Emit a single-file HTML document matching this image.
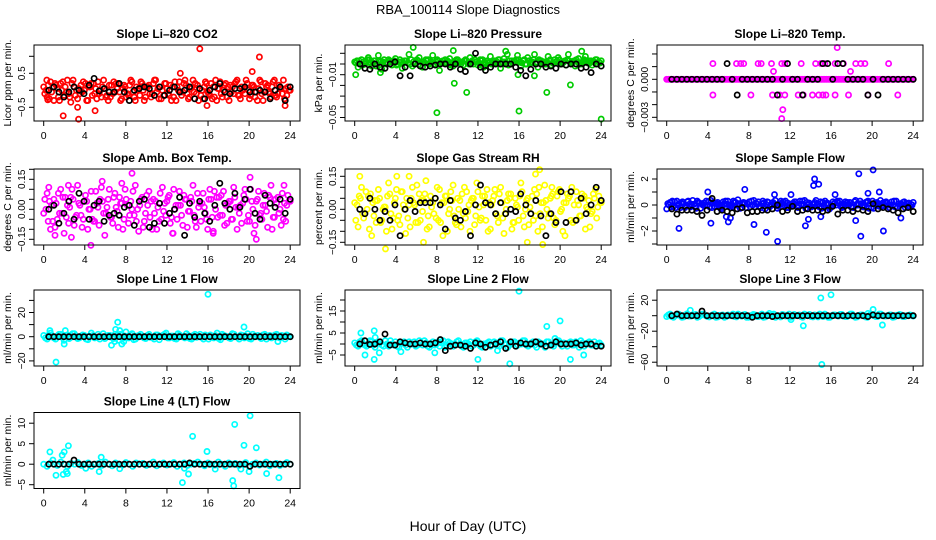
<!DOCTYPE html>
<html><head><meta charset="utf-8"><title>RBA_100114 Slope Diagnostics</title>
<style>
html,body{margin:0;padding:0;background:#fff;}
svg{display:block;font-family:"Liberation Sans",Arial,sans-serif;}
</style></head>
<body>
<svg id="chart" width="936" height="540" viewBox="0 0 936 540" xmlns="http://www.w3.org/2000/svg">
<rect width="936" height="540" fill="#fff"/>
<text x="468" y="14" text-anchor="middle" font-size="13">RBA_100114  Slope Diagnostics</text>
<text x="468" y="531" text-anchor="middle" font-size="14">Hour of Day (UTC)</text>
</svg>
<script>
// ---- data ----
const xTicks = [0,4,8,12,16,20,24];

const co2Color = [0.1,-0.2,0.25,-0.3,0.05,0.2,-0.15,0.3,-0.35,0.1,-0.25,0.15,0.0,-0.3,0.2,-0.1,0.25,-0.2,0.05,-0.3,0.15,-0.05,0.2,-0.25,0.1,-0.15,0.25,-0.3,0.05,0.2,-0.2,0.15,-0.1,0.3,-0.25,0.0,0.2,-0.15,0.1,-0.3,0.25,-0.05,0.15,-0.2,0.3,-0.1,0.05,-0.25,0.2,-0.15,0.1,-0.3,0.25,0.0,-0.2,0.15,-0.1,0.3,-0.25,0.05,0.2,-0.15,0.1,-0.3,0.25,-0.05,0.15,-0.2,0.3,-0.1,0.05,-0.25,0.1];
const co2Color2 = [-0.1,0.15,-0.05,0.2,-0.2,0.0,0.1,-0.1,0.2,-0.15,0.05,-0.05,0.2,0.1,-0.15,0.05,-0.1,0.1,-0.2,0.15,-0.1,0.2,-0.05,0.05,-0.2,0.15,-0.05,0.1,-0.15,0.0,0.1,-0.1,0.2,-0.05,0.1,-0.15,0.05,0.15,-0.2,0.1,-0.05,0.2,-0.1,0.05,-0.05,0.15,-0.15,0.1,-0.05,0.2,-0.2,0.05,-0.1,0.15,0.1,-0.05,0.2,-0.15,0.1,-0.1,0.0,0.15,-0.2,0.05,-0.1,0.2,-0.05,0.1,-0.15,0.15,-0.1,0.05,0.0];
const co2Color3 = [0.0,-0.25,0.1,0.15,-0.3,0.25,-0.05,-0.2,0.3,0.0,-0.1,0.25,-0.3,0.1,0.2,-0.25,0.0,0.3,-0.15,-0.2,0.25,0.05,-0.3,0.15,-0.1,0.3,-0.2,0.0,0.25,-0.3,0.1,-0.2,0.3,0.05,-0.25,0.2,-0.1,-0.3,0.25,0.0,-0.15,0.3,-0.25,0.1,0.2,-0.3,0.0,0.25,-0.1,-0.25,0.3,0.05,-0.2,0.2,-0.3,0.1,0.25,-0.15,0.0,0.3,-0.25,0.15,-0.05,0.3,-0.3,0.1,-0.1,0.25,-0.2,0.05,0.3,-0.15,0.0];
const co2Out = [[1.9,-0.75],[3.4,-0.85],[5,-0.6],[15.2,1.22],[21,0.98],[20.3,0.55],[13.3,0.5],[3.3,-0.5],[23.5,-0.45],[0.3,0.3],[0.4,-0.28],[15.9,-0.45]];
const co2Black = [0.0,0.1,-0.05,-0.2,-0.05,0.1,0.0,-0.1,0.15,0.35,-0.02,0.05,-0.05,-0.05,0.2,-0.05,-0.3,0.0,0.05,0.1,0.05,-0.15,0.1,-0.15,0.0,0.1,-0.05,0.0,0.1,-0.25,0.05,-0.25,0.0,0.1,0.2,-0.05,-0.1,0.05,0.05,0.1,-0.05,-0.05,0.0,-0.05,-0.25,0.0,0.1,-0.3,0.1];

const presColor = [0.002,-0.003,0.004,0.0,0.006,-0.002,0.003,0.008,-0.005,0.001,0.004,-0.001,0.005,0.002,-0.004,0.003,0.009,-0.002,0.001,0.006,-0.003,0.004,0.0,0.008,0.002,-0.006,0.003,0.001,0.005,-0.002,0.004,0.002,-0.001,0.003,0.006,0.0,0.002,0.004,-0.003,0.003,0.007,0.001,0.002,-0.004,0.005,0.009,0.0,0.003,0.008,-0.002,0.004,0.006,0.001,0.009,-0.003,0.003,0.002,0.007,-0.001,0.004,0.006,0.0,0.003,0.009,0.002,-0.002,0.005,0.001,0.007,0.003,-0.001,0.004,0.002];
const presColor2 = [0.001,0.003,-0.001,0.002,0.004,0.001,-0.002,0.003,0.002,0.0,0.003,0.002,-0.001,0.004,0.001,0.003,0.0,0.002,0.004,-0.001,0.002,0.003,0.001,0.0,0.004,0.002,0.001,0.003,-0.001,0.002,0.004,0.0,0.003,0.001,0.002,0.004,-0.001,0.003,0.002,0.001,0.0,0.003,0.004,0.001,0.002,-0.001,0.003,0.002,0.004,0.001,0.0,0.003,0.002,0.001,0.004,0.002,0.0,0.003,0.001,0.002,0.004,0.001,-0.001,0.003,0.002,0.004,0.0,0.002,0.003,0.001,0.002,0.004,0.001];
const presColor3 = [0.003,0.0,0.002,0.004,0.001,0.003,0.0,0.002,0.004,0.001,0.002,0.003,0.0,0.002,0.003,0.001,0.004,0.0,0.003,0.002,0.001,0.004,0.002,0.0,0.003,0.001,0.004,0.002,0.0,0.003,0.001,0.002,0.004,0.0,0.003,0.002,0.001,0.004,0.0,0.002,0.003,0.001,0.004,0.002,0.0,0.003,0.001,0.004,0.002,0.003,0.0,0.001,0.004,0.002,0.003,0.0,0.002,0.004,0.001,0.003,0.0,0.002,0.004,0.001,0.003,0.002,0.0,0.004,0.001,0.003,0.002,0.0,0.003];
const presOut = [[5.7,0.0155],[8,-0.0455],[16,-0.044],[24,-0.0515],[10.9,-0.0265],[9.7,-0.018],[18.7,-0.0265],[21,-0.0195],[9.6,0.0125],[0.1,-0.01],[2.5,-0.008],[15.9,-0.01],[17.5,-0.011],[22.1,0.012],[14.7,0.012]];
const presBlack = [0.0,-0.004,-0.005,0.0,-0.003,-0.004,0.0,0.002,-0.011,-0.003,-0.011,0.0,-0.002,-0.003,-0.002,-0.001,0.0,0.0,-0.003,0.0,-0.005,-0.007,0.0,0.01,-0.003,-0.006,-0.003,0.0,0.0,0.0,0.0,-0.003,-0.006,-0.011,-0.005,0.0,0.0,-0.003,-0.002,-0.004,0.0,-0.001,0.0,0.0,-0.004,-0.003,-0.008,0.0,-0.002];

const tempColor = [0,0,0,0,0,0,0,0,0,0,0,0,0,0,0,0,0,0,0,0,0,0,0,0,0,0,0,0,0,0,0,0,0,0,0,0,0,0,0,0,0,0,0,0,0,0,0,0,0,0,0,0,0,0,0,0,0,0,0,0,0,0,0,0,0,0,0,0,0,0,0,0,0];
const tempColor2 = [0,0,0,0,0,0,0,0,0,0,0,0,0,0,0,0,0,0,0,0,0,0,0,0,0,0,0,0,0,0,0,0,0,0,0,0,0,0,0,0,0,0,0,0,0,0,0,0,0,0,0,0,0,0,0,0,0,0,0,0,0,0,0,0,0,0,0,0,0,0,0,0,0];
const tempOut = [[4.5,0.00124],[6.8,0.00124],[7.2,0.00124],[7.5,0.00124],[8.9,0.00124],[9.2,0.00124],[10.2,0.00124],[11.2,0.00124],[11.5,0.00124],[13.1,0.00124],[14.5,0.00124],[15,0.00124],[15.4,0.00124],[16.4,0.00124],[17.2,0.00124],[18.4,0.00124],[18.9,0.00124],[19.3,0.00124],[21.6,0.00124],[4.5,-0.00124],[8.2,-0.00124],[10.3,-0.00124],[11,-0.00124],[11.5,-0.00124],[12.8,-0.00124],[13.3,-0.00124],[14.2,-0.00124],[14.8,-0.00124],[15.2,-0.00124],[15.5,-0.00124],[16.4,-0.00124],[17.7,-0.00124],[19.6,-0.00124],[22.5,-0.00124],[10.4,0.00062],[17.9,0.00062],[16.6,0.0025],[11.3,-0.0024],[11.2,-0.0031]];
const tempBlack = [0,0,0,0,0,0,0,0,0,0,0,0.00124,0,-0.00124,0,0,0,0,0,0,0,-0.00124,0,0.00124,0,0,-0.00124,0,0,0,0.00124,0.00124,0,0.00124,0.00124,0,0,0,0,-0.00124,0,-0.00124,0,0,0,0,0,0,0];

const ambColor = [-0.02,0.08,-0.1,0.05,-0.05,0.1,-0.12,0.02,0.06,-0.08,0.12,-0.03,0.04,-0.1,0.09,-0.06,0.01,0.11,-0.13,0.05,-0.04,0.08,-0.09,0.03,0.1,-0.07,0.0,0.12,-0.11,0.06,-0.02,0.09,-0.1,0.04,-0.06,0.11,-0.03,0.07,-0.12,0.02,0.09,-0.08,0.05,-0.01,0.12,-0.09,0.03,0.08,-0.05,0.1,-0.11,0.06,-0.03,0.09,-0.07,0.04,0.11,-0.1,0.02,0.07,-0.06,0.1,-0.12,0.05,-0.02,0.08,-0.09,0.12,-0.04,0.06,-0.08,0.03,0.07];
const ambColor2 = [0.05,-0.06,0.02,-0.09,0.08,-0.02,0.06,-0.07,0.1,-0.04,0.03,-0.09,0.07,0.0,-0.05,0.09,-0.08,0.04,-0.02,0.1,-0.07,0.01,0.06,-0.1,0.05,-0.03,0.09,-0.06,0.02,-0.09,0.07,-0.04,0.05,-0.1,0.08,-0.01,0.04,-0.07,0.1,-0.05,0.02,0.07,-0.09,0.06,-0.03,0.08,-0.06,0.01,-0.1,0.05,0.09,-0.04,0.07,-0.08,0.03,-0.05,0.06,0.01,-0.07,0.1,-0.03,0.04,-0.08,0.09,-0.05,0.02,0.07,-0.1,0.05,-0.02,0.08,-0.06,0.04];
const ambColor3 = [0.0,0.04,-0.06,0.03,-0.02,0.06,-0.04,0.01,0.05,-0.03,0.02,-0.05,0.04,0.0,-0.06,0.03,0.05,-0.02,0.01,-0.04,0.06,-0.01,0.03,-0.05,0.02,0.04,-0.03,0.0,0.05,-0.06,0.02,0.04,-0.02,0.01,-0.05,0.03,0.06,-0.04,0.0,0.02,-0.03,0.05,-0.01,0.04,-0.06,0.01,0.03,-0.02,0.05,-0.04,0.0,0.06,-0.03,0.02,0.04,-0.05,0.01,-0.02,0.03,0.05,-0.06,0.0,0.04,-0.03,0.02,-0.01,0.06,-0.04,0.03,0.0,-0.05,0.02,0.04];
const ambOut = [[0.5,0.11],[2.4,0.12],[7.6,0.13],[8.6,0.18],[5.7,0.14],[4.6,-0.18],[2.7,-0.14],[20.7,-0.15],[20.1,0.16],[16.5,-0.12],[23.4,0.12],[1.1,-0.13],[12.6,-0.12]];
const ambBlack = [0.0,0.02,-0.07,-0.02,0.04,-0.05,0.08,0.04,-0.05,0.02,0.04,-0.06,-0.03,-0.02,-0.03,0.01,0.02,-0.08,0.04,0.05,-0.09,-0.07,0.03,-0.07,-0.02,0.0,0.06,-0.13,0.03,-0.04,0.04,-0.02,-0.06,0.02,0.13,0.03,0.0,0.08,0.01,0.05,0.1,-0.02,-0.05,0.07,0.03,0.01,0.05,-0.02,0.05];

const rhColor = [0.03,-0.08,0.1,-0.02,0.06,-0.12,0.04,0.09,-0.05,0.01,0.12,-0.09,0.05,-0.03,0.08,-0.11,0.02,0.1,-0.06,0.07,-0.01,0.13,-0.08,0.03,-0.04,0.09,-0.12,0.06,0.0,0.11,-0.07,0.04,-0.02,0.08,-0.1,0.05,0.12,-0.05,0.02,0.09,-0.09,0.06,-0.03,0.1,-0.11,0.04,0.07,-0.06,0.01,0.12,-0.08,0.05,-0.02,0.09,-0.1,0.03,0.11,-0.04,0.06,-0.07,0.08,0.0,-0.12,0.05,0.1,-0.05,0.02,0.07,-0.09,0.04,-0.01,0.09,0.06];
const rhColor2 = [-0.05,0.06,-0.02,0.08,-0.09,0.03,-0.06,0.05,0.0,-0.1,0.07,-0.04,0.09,-0.07,0.02,0.05,-0.08,0.03,0.11,-0.05,0.04,-0.09,0.06,-0.02,0.1,-0.06,0.03,-0.1,0.08,-0.03,0.05,-0.08,0.1,-0.01,0.04,-0.07,0.08,-0.04,0.06,-0.1,0.02,0.09,-0.06,0.03,-0.02,0.07,-0.09,0.05,-0.05,0.08,0.0,-0.07,0.06,-0.03,0.1,-0.08,0.04,-0.02,0.07,-0.05,0.09,-0.1,0.03,0.06,-0.06,0.08,-0.03,0.05,0.01,-0.08,0.07,-0.04,0.03];
const rhColor3 = [0.02,0.05,-0.04,0.0,0.07,-0.03,0.04,-0.06,0.01,0.06,-0.02,0.03,-0.05,0.08,0.0,-0.04,0.05,0.02,-0.06,0.04,0.07,-0.03,0.01,0.05,-0.05,0.03,0.06,-0.02,0.04,-0.06,0.0,0.07,-0.04,0.02,0.05,-0.03,0.01,0.06,-0.05,0.03,0.04,-0.02,0.07,-0.04,0.0,0.05,-0.06,0.02,0.06,-0.03,0.04,0.01,-0.05,0.07,-0.02,0.03,0.0,0.05,-0.04,0.06,-0.01,0.03,0.07,-0.05,0.02,0.04,-0.03,0.06,0.0,-0.02,0.05,0.01,0.03];
const rhOut = [[0.5,0.15],[3,-0.18],[18,0.18],[17.6,0.16],[5.3,0.15],[4.1,0.15],[18.3,-0.16],[16.8,-0.15],[19.2,0.1],[6.7,-0.15]];
const rhBlack = [0.0,-0.02,0.05,0.0,-0.05,-0.01,-0.05,0.02,-0.12,0.0,0.04,-0.01,0.03,0.03,0.03,0.05,0.02,-0.09,0.04,-0.04,-0.05,-0.01,-0.12,0.02,0.11,0.03,0.02,-0.02,0.03,-0.02,0.0,-0.01,0.07,0.02,-0.02,0.04,-0.03,-0.12,-0.02,-0.06,0.08,-0.06,0.08,-0.05,0.05,-0.02,0.02,0.1,0.04];

const flowColor = [-0.3,0.2,-0.1,0.3,-0.2,0.1,0.25,-0.15,0.05,0.3,-0.25,0.15,0.0,0.35,-0.1,0.2,-0.3,0.1,0.3,-0.05,0.2,0.4,-0.2,0.15,0.05,0.3,-0.15,0.25,0.1,-0.3,0.2,0.0,0.35,-0.1,0.15,0.3,-0.2,0.1,0.25,-0.05,0.3,-0.25,0.15,0.05,0.35,-0.15,0.2,0.1,-0.3,0.25,0.0,0.3,-0.1,0.15,0.2,-0.2,0.05,0.3,-0.15,0.25,0.1,-0.25,0.2,0.35,-0.05,0.15,0.0,0.3,-0.2,0.1,0.25,-0.1,0.05];
const flowColor2 = [0.1,-0.15,0.25,0.0,0.15,-0.2,0.3,0.05,-0.1,0.2,0.1,-0.05,0.25,-0.2,0.15,0.05,-0.1,0.3,0.0,-0.15,0.2,0.1,0.05,-0.2,0.25,0.0,0.15,-0.1,0.3,0.05,-0.15,0.2,-0.05,0.1,0.25,-0.2,0.0,0.15,-0.1,0.3,0.05,0.2,-0.15,0.1,0.0,0.25,-0.05,0.15,-0.2,0.1,0.3,-0.1,0.05,0.2,-0.15,0.25,0.0,0.1,-0.05,0.3,-0.2,0.15,0.05,-0.1,0.2,0.0,0.25,-0.15,0.1,0.05,-0.2,0.15,0.0];
const flowColor3 = [0.0,0.3,-0.2,0.1,0.25,-0.1,0.05,0.35,-0.25,0.15,0.0,0.3,-0.15,0.2,0.1,-0.2,0.25,0.05,-0.1,0.3,0.0,-0.25,0.2,0.1,-0.15,0.35,0.05,-0.2,0.15,0.25,-0.05,0.1,-0.25,0.3,0.0,0.15,-0.1,0.25,-0.2,0.05,0.35,0.0,-0.15,0.2,0.1,-0.25,0.3,0.05,-0.1,0.2,0.15,-0.2,0.25,0.0,-0.15,0.35,0.1,-0.05,0.2,-0.25,0.3,0.05,-0.1,0.15,0.25,-0.2,0.0,0.3,-0.05,0.2,0.1,-0.15,0.2];
const flowOut = [[1.2,-1.8],[4,1.0],[4.3,-1.4],[6,-1.3],[6.2,-1.0],[7.6,1.2],[8.5,-1.5],[9.7,-2.1],[10.8,-2.8],[10.5,0.8],[12.1,0.8],[13.5,-1.6],[13.8,-1.1],[14.4,2.0],[14.8,1.6],[14.3,1.5],[15,-0.9],[16.4,0.8],[18.4,-1.2],[18.7,2.4],[18.9,-2.4],[19.6,0.9],[20.1,2.7],[20.7,1.0],[21.1,-2.0],[22.8,-1.0],[5.8,-0.9]];
const flowBlack = [-0.3,-0.7,-0.4,-0.4,-0.4,-0.5,-0.8,-0.4,0.5,-0.5,-0.4,-0.5,-0.6,-0.3,-0.2,-0.6,-0.5,-0.5,-0.4,-0.4,-0.3,0.0,-0.5,-0.4,-0.1,-0.5,-0.4,-0.3,-0.4,-0.4,-0.5,-0.4,-0.1,-0.7,-0.4,-0.4,-0.5,-0.3,-0.4,-0.5,0.1,-0.3,-0.2,-0.3,-0.4,-0.6,-0.3,-0.2,-0.5];

const l1Color = [1,-2,3,-1,0.5,2,-3,1.5,-0.5,2.5,-1.5,0.5,1,-2.5,3,-1,2,0,-1.5,1,-0.5,2,-3,1.5,0.5,-1,2.5,-2,1,0,-1.5,2,-0.5,1.5,-2.5,1,3,-1,0.5,-2,1.5,0,2.5,-1.5,1,-0.5,2,-2,0.5,1.5,-1,3,-2.5,1,0,-1.5,2,-0.5,1.5,-1,2.5,-2,0.5,1,-1.5,2,0,-1,1.5,-0.5,1,-2,0.5];
const l1Color2 = [-1,1.5,0,-2,2,-0.5,1,-1.5,2.5,0,-1,1.5,-2,0.5,1,-0.5,-2,2.5,0,1,-1.5,0.5,2,-1,0,1.5,-2.5,0.5,2,-1,1,-0.5,-2,1.5,0,2,-1,0.5,-1.5,2.5,0,-1,1,-2,2,0.5,-0.5,1.5,-2,0,1,-1.5,2,0.5,-1,2.5,0,-2,1,0.5,-1.5,2,0,-0.5,1.5,-2,1,0,2,-1,0.5,1.5,0];
const l1Out = [[1.2,-21],[16,35],[7.2,12],[19.5,8],[6.6,-7],[7.6,-6],[7,6],[7.4,5],[2,-6],[0.6,5],[2.1,5],[8,4],[22.8,-4],[6.9,-4],[7.8,-4]];
const l1Black = [0,0,0,0,0,0,0,0,0,0,0,0,0,0,0,0,0,0,0,0,0,0,0,0,0,0,0,0,0,0,0,0,0,0,0,0,0,0,0,0,0,0,0,0,0,0,0,0,0];

const l2Color = [0.5,-1,1.5,-0.5,0,1,-1.5,0.5,-0.5,1.5,-1,0,1,-1.5,0.5,-0.5,1,0,-1,1.5,-0.5,0.5,-1.5,1,0,-1,1.5,-0.5,0.5,-1,1,0,-1.5,0.5,1,-0.5,1.5,-1,0,0.5,-1,1,-0.5,1.5,0,-1.5,0.5,1,-0.5,0,1.5,-1,0.5,-0.5,1,0,-1.5,1,-0.5,0.5,1.5,-1,0,0.5,-0.5,1,-1.5,0.5,0,1,-0.5,-1,0.5];
const l2Color2 = [-0.5,1,0,-1,1.5,-0.5,0.5,1,-1,0,1.5,-0.5,-1,0.5,1,-1.5,0,1,-0.5,0.5,1.5,-1,0,-0.5,1,0.5,-1.5,1,0,-0.5,1.5,-1,0.5,0,-1,1,0.5,-1.5,0,1,-0.5,0.5,-1,1.5,0,-0.5,1,-1,0.5,1.5,-0.5,0,1,-1.5,0.5,0,1,-0.5,-1,1.5,0,0.5,-1,1,-0.5,0,1.5,-1,0.5,-0.5,1,0,-0.5];
const l2Out = [[16,24],[20,10.5],[18.7,8],[0.6,5],[1.9,6],[1.9,-7],[15.1,-9],[12,-7],[21,-7],[1,-5],[22.3,-5],[2,3],[2.4,-4],[7.8,-4],[4.5,-3.5],[19.5,2.5],[13.9,-3]];
const l2Black = [0,1.5,-0.2,0,1,4.5,-0.5,-0.5,1,0.5,0,0,0.5,0,0,0.5,2,-3,-1,-0.5,-0.5,-1,-2,0.5,0,-1.5,-0.5,0,1,-2,1,-1,0.5,0,0,1,0,-1,-0.5,1,0,0,0,0.5,-0.5,0,0,-1,-1];

const l3Color = [-1,2,-2,1,0,-1.5,2.5,-0.5,1,-2,0.5,1.5,-1,0,2,-1.5,0.5,-2,1,0,-1,2,-0.5,1.5,-2,0,1,-1,2,-1.5,0.5,1,-2,0,1.5,-0.5,2,-1,0,1,-2,0.5,1.5,-1.5,0,2,-1,0.5,-2,1,0,1.5,-0.5,-1,2,0,-1.5,1,0.5,-2,1.5,0,-1,2,-0.5,0,1,-1.5,0.5,1,-1,0,0.5];
const l3Color2 = [1,-1,0,2,-2,1,-0.5,0,1.5,-1,2,0,-1.5,1,-2,0.5,1,-1,0,2,-1.5,0.5,1,-2,0,1.5,-1,0.5,-2,1,0,2,-0.5,-1.5,1,0,-2,1.5,0.5,-1,2,0,-1,1,-1.5,0.5,2,-2,0,1,-0.5,1.5,-1,0,2,-2,0.5,1,-1.5,0,1.5,-1,2,0,-0.5,1,-2,0.5,1.5,-1,0,1,-0.5];
const l3Out = [[15,23],[16,27],[15.1,-63],[13.3,-13],[21,-12],[20.1,8],[2.3,7],[12.1,-5],[10,3],[19.6,3]];
const l3Black = [0,2,0,0,0,0,6,0,0,0,0,0,0,0,0,0,-2,0,0,0,-1,0,0,0,0,0,0,0,0,0,0,0,0,0,0,0,0,0,0,-1,1,0,0,0,0,0,0,0,0];

const l4Color = [0,-0.5,0.3,0,-0.3,0.5,0,-0.5,0.2,0,0.4,-0.3,0,0.3,-0.5,0,0.2,-0.3,0.5,0,-0.4,0.3,0,-0.2,0.4,0,-0.5,0.3,0,0.2,-0.3,0,0.5,-0.4,0,0.3,-0.2,0,0.4,-0.5,0,0.3,-0.3,0,0.2,0.5,0,-0.4,0.3,0,-0.2,0.5,0,-0.5,0.3,0,0.2,-0.3,0,0.4,-0.5,0,0.3,-0.2,0,0.5,-0.4,0,0.2,-0.3,0,0.4,0];
const l4Out = [[0.6,3],[0.9,1],[1.2,-2.7],[1.8,2.2],[2,3],[1.9,-2.5],[2.2,-1.8],[2.4,4.5],[2.3,-2.3],[5.6,1.7],[5.4,-1.8],[7.4,-1.1],[13.5,-4.5],[13.7,-1],[14.1,-2.4],[14.5,6.8],[15.9,3.1],[16.7,-1.2],[18.4,-4],[18.5,-5.3],[18.6,9.7],[19.5,4.6],[20,-1.8],[20.1,11.8],[20.7,4],[21.7,-2.3],[22.9,-3.3],[4.1,-1],[19.2,-1.2]];
const l4Black = [0,0,0,0,0,1,0,0,0,0,0,0,0,0,0,0,0,0,0,0,0,0,0,0,0,0,0,0,0.3,0,0,0,0,0,0,0,0,0,0,0,-0.5,0,0,0,0,0,0,0,0];

const yTicks = [
  [1.0,0.5,0,-0.5],
  [0.01,0,-0.01,-0.02,-0.03,-0.04,-0.05],
  [0.002,0.001,0,-0.001,-0.002,-0.003],
  [0.2,0.15,0.1,0.05,0,-0.05,-0.1,-0.15],
  [0.15,0.1,0.05,0,-0.05,-0.1,-0.15],
  [3,2,1,0,-1,-2,-3],
  [30,20,10,0,-10,-20],
  [20,15,10,5,0,-5],
  [20,0,-20,-40,-60],
  [10,5,0,-5]
];
const yTickLabels = [
  {"0.5":"0.5","-0.5":"\u22120.5"},
  {"-0.01":"\u22120.01","-0.05":"\u22120.05"},
  {"0":"0.000","-0.003":"\u22120.003"},
  {"0.15":"0.15","0":"0.00","-0.15":"\u22120.15"},
  {"0.15":"0.15","0":"0.00","-0.15":"\u22120.15"},
  {"2":"2","0":"0","-2":"\u22122"},
  {"20":"20","0":"0","-20":"\u221220"},
  {"15":"15","5":"5","-5":"\u22125"},
  {"20":"20","-20":"\u221220","-60":"\u221260"},
  {"10":"10","5":"5","0":"0","-5":"\u22125"}
];

// ---- layout (not data) ----
const colsL = [34, 345, 657];
const rowsT = [45, 169, 290, 412.5];
const BW = 266, BH = 76;
const panels = [
  {name:"co2", title:"Slope Li\u2013820 CO2", ylab:"Licor ppm per min.", col:0,row:0, zero:45.3, scale:34, color:"#ff0000", series:[co2Color,co2Color2,co2Color3], out:co2Out, black:co2Black},
  {name:"pressure", title:"Slope Li\u2013820 Pressure", ylab:"kPa per min.", col:1,row:0, zero:19, scale:1070, color:"#00cc00", series:[presColor,presColor2,presColor3], out:presOut, black:presBlack},
  {name:"li820-temp", title:"Slope Li\u2013820 Temp.", ylab:"degrees C per min.", col:2,row:0, zero:34.3, scale:12670, color:"#ff00ff", series:[tempColor,tempColor2], out:tempOut, black:tempBlack},
  {name:"amb-box-temp", title:"Slope Amb. Box Temp.", ylab:"degrees C per min.", col:0,row:1, zero:40.3, scale:200, color:"#ff00ff", series:[ambColor,ambColor2,ambColor3], out:ambOut, black:ambBlack},
  {name:"gas-stream-rh", title:"Slope Gas Stream RH", ylab:"percent per min.", col:1,row:1, zero:40.3, scale:220, color:"#ffff00", series:[rhColor,rhColor2,rhColor3], out:rhOut, black:rhBlack},
  {name:"sample-flow", title:"Slope Sample Flow", ylab:"ml/min per min.", col:2,row:1, zero:36, scale:13, color:"#0000ff", series:[flowColor,flowColor2,flowColor3], out:flowOut, black:flowBlack},
  {name:"line1-flow", title:"Slope Line 1 Flow", ylab:"ml/min per min.", col:0,row:2, zero:46.7, scale:1.21, color:"#00ffff", series:[l1Color,l1Color2], out:l1Out, black:l1Black},
  {name:"line2-flow", title:"Slope Line 2 Flow", ylab:"ml/min per min.", col:1,row:2, zero:54, scale:2.2, color:"#00ffff", series:[l2Color,l2Color2], out:l2Out, black:l2Black},
  {name:"line3-flow", title:"Slope Line 3 Flow", ylab:"ml/min per min.", col:2,row:2, zero:25.7, scale:0.775, color:"#00ffff", series:[l3Color,l3Color2], out:l3Out, black:l3Black},
  {name:"line4-flow", title:"Slope Line 4 (LT) Flow", ylab:"ml/min per min.", col:0,row:3, zero:51.7, scale:4.1, color:"#00ffff", series:[l4Color], out:l4Out, black:l4Black}
];

const NS = "http://www.w3.org/2000/svg";
const svg = document.getElementById("chart");
function mk(tag, attrs, parent){
  const e = document.createElementNS(NS, tag);
  for (const k in attrs) e.setAttribute(k, attrs[k]);
  parent.appendChild(e);
  return e;
}

panels.forEach((p, pi) => {
  const L = colsL[p.col], T = rowsT[p.row];
  const xS = h => L + 9.7 + h * (246.5 / 24);
  const yS = v => T + p.zero - v * p.scale;
  const g = mk("g", {}, svg);
  
  

  const title = mk("text", {x: L + BW/2, y: T - 7, "text-anchor":"middle", "font-size":"12", "font-weight":"bold"}, g);
  title.textContent = p.title;
  
  

  const yl = mk("text", {transform:`translate(${L-23},${T+BH/2}) rotate(-90)`, "text-anchor":"middle", "font-size":"10.5"}, g);
  yl.textContent = p.ylab;
  
  

  const pts = mk("g", {fill:"none", "stroke-width":"1.7"}, g);
  
  
  const ns = p.series.length;
  p.series.forEach((arr, si) => {
    arr.forEach((v, i) => {
      const h = (i + si / ns) * 24 / (arr.length - 1 + (ns - 1) / ns);
      const c = mk("circle", {cx: xS(h).toFixed(1), cy: yS(v).toFixed(1), r: 2.6, stroke: p.color}, pts);
      
      
    });
  });
  p.out.forEach(([h, v]) => {
    const c = mk("circle", {cx: xS(h).toFixed(1), cy: yS(v).toFixed(1), r: 2.6, stroke: p.color}, pts);
    
    
  });
  p.black.forEach((v, i) => {
    const h = 0.5 + i * 23.5 / (p.black.length - 1);
    const c = mk("circle", {cx: xS(h).toFixed(1), cy: yS(v).toFixed(1), r: 2.6, stroke: "#000"}, pts);
    
    
  });

  const box = mk("rect", {x: L, y: T, width: BW, height: BH, fill: "none", stroke: "#000", "stroke-width": "1"}, g);
  
  

  const xa = mk("g", {}, g);
  
  
  xTicks.forEach(t => {
    const x = xS(t);
    const tk = mk("line", {x1:x, x2:x, y1:T+BH, y2:T+BH+5, stroke:"#000"}, xa);
    
    
    const lb = mk("text", {x:x, y:T+BH+18, "text-anchor":"middle", "font-size":"10.5"}, xa);
    lb.textContent = t;
    
    
  });

  const ya = mk("g", {}, g);
  
  
  yTicks[pi].forEach(t => {
    const y = yS(t);
    if (y < T - 1 || y > T + BH + 1) return;
    const tk = mk("line", {x1:L-5, x2:L, y1:y, y2:y, stroke:"#000"}, ya);
    
    
    const lab = yTickLabels[pi][String(t)];
    if (lab !== undefined) {
      const lb = mk("text", {transform:`translate(${L-9},${y}) rotate(-90)`, "text-anchor":"middle", "font-size":"10"}, ya);
      lb.textContent = lab;
      
      
    }
  });
});
</script>
</body></html>
